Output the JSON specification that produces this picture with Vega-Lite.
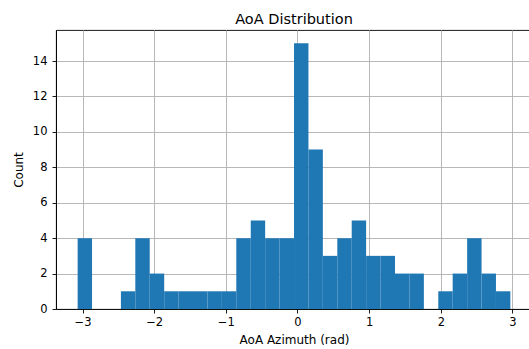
{
  "$schema": "https://vega.github.io/schema/vega-lite/v6.json",
  "width": 476,
  "height": 279,
  "autosize": {"type": "none"},
  "padding": {"left": 56, "top": 30, "right": 0, "bottom": 40},
  "background": "white",
  "title": {"text": "AoA Distribution", "fontSize": 14.5, "font": "DejaVu Sans", "fontWeight": "normal", "color": "black", "offset": 3},
  "config": {
    "view": {"stroke": "black", "strokeWidth": 0.9},
    "axis": {
      "labelFont": "DejaVu Sans", "labelFontSize": 11.5, "labelColor": "black",
      "titleFont": "DejaVu Sans", "titleFontSize": 12, "titleFontWeight": "normal", "titleColor": "black",
      "gridColor": "#b0b0b0", "gridWidth": 0.9, "gridOpacity": 1,
      "tickColor": "black", "tickSize": 4, "tickWidth": 0.9,
      "domainColor": "black", "domainWidth": 0.9,
      "zindex": 1
    }
  },
  "data": {"values": [
    {"bin_start": -3.068, "bin_end": -2.867, "count": 4},
    {"bin_start": -2.867, "bin_end": -2.666, "count": 0},
    {"bin_start": -2.666, "bin_end": -2.464, "count": 0},
    {"bin_start": -2.464, "bin_end": -2.263, "count": 1},
    {"bin_start": -2.263, "bin_end": -2.062, "count": 4},
    {"bin_start": -2.062, "bin_end": -1.860, "count": 2},
    {"bin_start": -1.860, "bin_end": -1.659, "count": 1},
    {"bin_start": -1.659, "bin_end": -1.458, "count": 1},
    {"bin_start": -1.458, "bin_end": -1.256, "count": 1},
    {"bin_start": -1.256, "bin_end": -1.055, "count": 1},
    {"bin_start": -1.055, "bin_end": -0.854, "count": 1},
    {"bin_start": -0.854, "bin_end": -0.652, "count": 4},
    {"bin_start": -0.652, "bin_end": -0.451, "count": 5},
    {"bin_start": -0.451, "bin_end": -0.250, "count": 4},
    {"bin_start": -0.250, "bin_end": -0.048, "count": 4},
    {"bin_start": -0.048, "bin_end": 0.153, "count": 15},
    {"bin_start": 0.153, "bin_end": 0.354, "count": 9},
    {"bin_start": 0.354, "bin_end": 0.556, "count": 3},
    {"bin_start": 0.556, "bin_end": 0.757, "count": 4},
    {"bin_start": 0.757, "bin_end": 0.958, "count": 5},
    {"bin_start": 0.958, "bin_end": 1.160, "count": 3},
    {"bin_start": 1.160, "bin_end": 1.361, "count": 3},
    {"bin_start": 1.361, "bin_end": 1.562, "count": 2},
    {"bin_start": 1.562, "bin_end": 1.764, "count": 2},
    {"bin_start": 1.764, "bin_end": 1.965, "count": 0},
    {"bin_start": 1.965, "bin_end": 2.166, "count": 1},
    {"bin_start": 2.166, "bin_end": 2.368, "count": 2},
    {"bin_start": 2.368, "bin_end": 2.569, "count": 4},
    {"bin_start": 2.569, "bin_end": 2.770, "count": 2},
    {"bin_start": 2.770, "bin_end": 2.971, "count": 1}
  ]},
  "mark": {"type": "rect", "color": "#1f77b4"},
  "encoding": {
    "x": {"field": "bin_start", "type": "quantitative",
      "scale": {"domain": [-3.370, 3.273], "nice": false, "zero": false},
      "axis": {"values": [-3, -2, -1, 0, 1, 2, 3], "title": "AoA Azimuth (rad)", "labelPadding": 3.5, "titlePadding": 6}},
    "x2": {"field": "bin_end"},
    "y": {"field": "count", "type": "quantitative",
      "scale": {"domain": [0, 15.75], "nice": false},
      "axis": {"values": [0, 2, 4, 6, 8, 10, 12, 14], "title": "Count", "labelPadding": 5, "titlePadding": 7}},
    "y2": {"datum": 0}
  }
}
